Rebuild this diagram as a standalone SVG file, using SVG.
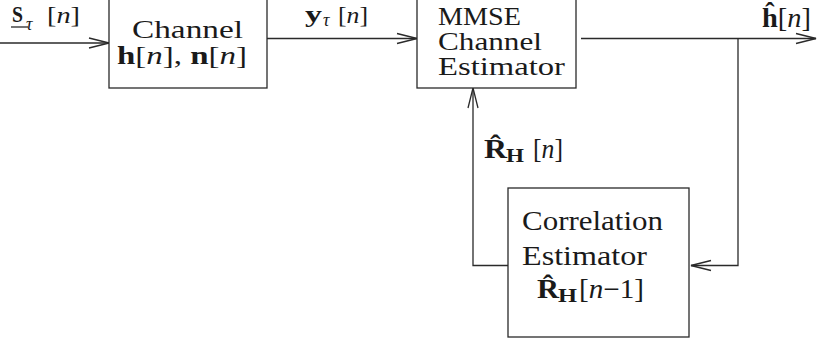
<svg xmlns="http://www.w3.org/2000/svg" width="817" height="344" viewBox="0 0 817 344">
<style>
.box{fill:#fff;stroke:#2a2a2a;stroke-width:1.3}
.ln{fill:none;stroke:#2a2a2a;stroke-width:1.3}
text{font-family:"Liberation Serif","Times New Roman",serif;fill:#1a1a1a;font-size:27px}
.b{font-weight:bold}
.i{font-style:italic}
.sub{font-size:18px}
.top{font-size:24px}
.ch{font-size:25px}
</style>
<defs>
<marker id="arr" markerUnits="userSpaceOnUse" markerWidth="24" markerHeight="14" refX="20" refY="5" orient="auto" overflow="visible">
<path d="M0,0 L20,5 L0,10" fill="none" stroke="#2a2a2a" stroke-width="1.3"/>
</marker>
</defs>
<rect width="817" height="344" fill="#fff"/>
<g id="connectors">
<path class="ln" d="M0,43 H109" marker-end="url(#arr)"/>
<path class="ln" d="M267,38.5 H417" marker-end="url(#arr)"/>
<path class="ln" d="M581,38.5 H816" marker-end="url(#arr)"/>
<path class="ln" d="M738,38.5 V265.5 H691" marker-end="url(#arr)"/>
<path class="ln" d="M508,265.5 H473 V88" marker-end="url(#arr)"/>
<g id="label-s">
<text class="b top" x="12" y="22" textLength="11" lengthAdjust="spacingAndGlyphs">S</text>
<line class="ln" x1="11" y1="27" x2="28" y2="27"/>
<text class="i sub" x="26" y="30">τ</text>
<text class="top" x="47" y="23" textLength="33" lengthAdjust="spacingAndGlyphs">[<tspan class="i">n</tspan>]</text>
</g>
<g id="label-y">
<text class="b top" x="305" y="22" textLength="17" lengthAdjust="spacingAndGlyphs">y</text>
<text class="i sub" x="323" y="26">τ</text>
<text class="top" x="338" y="23" textLength="30" lengthAdjust="spacingAndGlyphs">[<tspan class="i">n</tspan>]</text>
</g>
<g id="label-h">
<text x="762" y="27" textLength="49" lengthAdjust="spacingAndGlyphs"><tspan class="b">ĥ</tspan>[<tspan class="i">n</tspan>]</text>
</g>
<g id="label-r">
<text class="b" x="484" y="158" textLength="23" lengthAdjust="spacingAndGlyphs">R̂</text>
<text class="b sub" x="506" y="162" textLength="18" lengthAdjust="spacingAndGlyphs">H</text>
<text x="533" y="158" textLength="30" lengthAdjust="spacingAndGlyphs">[<tspan class="i">n</tspan>]</text>
</g>
</g>
<g id="channel">
<rect class="box" x="109" y="-2" width="158" height="90"/>
<text class="ch" x="132" y="38" textLength="111" lengthAdjust="spacingAndGlyphs">Channel</text>
<text class="ch" x="117" y="64" textLength="130" lengthAdjust="spacingAndGlyphs"><tspan class="b">h</tspan>[<tspan class="i">n</tspan>], <tspan class="b">n</tspan>[<tspan class="i">n</tspan>]</text>
</g>
<g id="mmse">
<rect class="box" x="417" y="-2" width="159" height="90"/>
<text class="ch" x="438" y="25" textLength="83" lengthAdjust="spacingAndGlyphs">MMSE</text>
<text class="ch" x="438" y="50" textLength="104" lengthAdjust="spacingAndGlyphs">Channel</text>
<text class="ch" x="438" y="75" textLength="127" lengthAdjust="spacingAndGlyphs">Estimator</text>
</g>
<g id="correlation">
<rect class="box" x="508" y="188" width="181" height="149"/>
<text x="522" y="230" textLength="141" lengthAdjust="spacingAndGlyphs">Correlation</text>
<text x="522" y="265" textLength="125" lengthAdjust="spacingAndGlyphs">Estimator</text>
<text class="b" x="537" y="298" textLength="22" lengthAdjust="spacingAndGlyphs">R̂</text>
<text class="b sub" x="558" y="302" textLength="19" lengthAdjust="spacingAndGlyphs">H</text>
<text x="579" y="298" textLength="65" lengthAdjust="spacingAndGlyphs">[<tspan class="i">n</tspan>−1]</text>
</g>
</svg>
